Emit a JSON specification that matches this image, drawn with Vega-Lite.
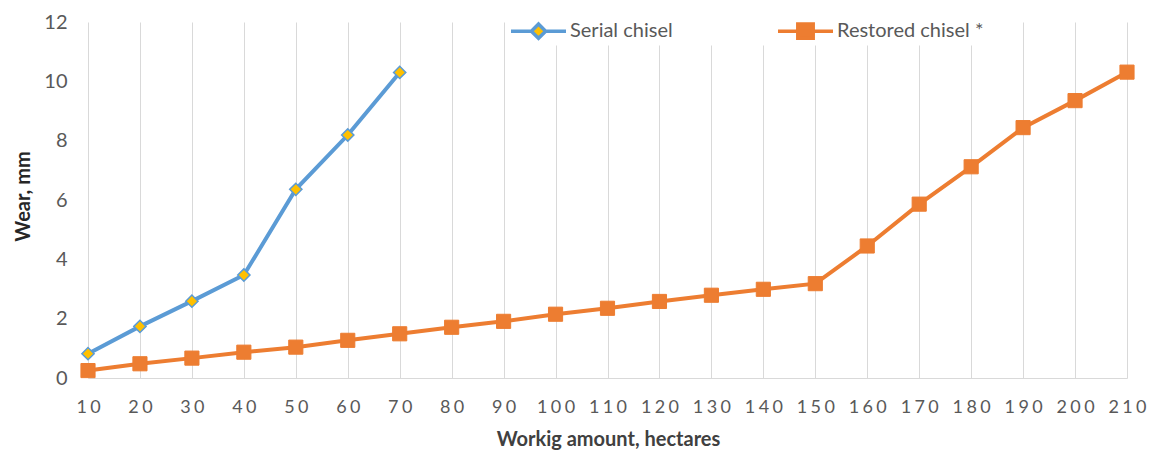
{
  "$schema": "https://vega.github.io/schema/vega-lite/v6.json",
  "autosize": "none",
  "width": 1039,
  "height": 356,
  "padding": {"left": 88, "top": 22, "right": 26, "bottom": 74},
  "background": "white",
  "config": {"view": {"stroke": null}, "font": "Lato"},
  "data": {"values": [
    {"x": 10, "wear": 0.82, "series": "Serial chisel"},
    {"x": 20, "wear": 1.74, "series": "Serial chisel"},
    {"x": 30, "wear": 2.59, "series": "Serial chisel"},
    {"x": 40, "wear": 3.47, "series": "Serial chisel"},
    {"x": 50, "wear": 6.36, "series": "Serial chisel"},
    {"x": 60, "wear": 8.19, "series": "Serial chisel"},
    {"x": 70, "wear": 10.3, "series": "Serial chisel"},
    {"x": 10, "wear": 0.25, "series": "Restored chisel *"},
    {"x": 20, "wear": 0.48, "series": "Restored chisel *"},
    {"x": 30, "wear": 0.67, "series": "Restored chisel *"},
    {"x": 40, "wear": 0.87, "series": "Restored chisel *"},
    {"x": 50, "wear": 1.04, "series": "Restored chisel *"},
    {"x": 60, "wear": 1.27, "series": "Restored chisel *"},
    {"x": 70, "wear": 1.49, "series": "Restored chisel *"},
    {"x": 80, "wear": 1.71, "series": "Restored chisel *"},
    {"x": 90, "wear": 1.91, "series": "Restored chisel *"},
    {"x": 100, "wear": 2.15, "series": "Restored chisel *"},
    {"x": 110, "wear": 2.35, "series": "Restored chisel *"},
    {"x": 120, "wear": 2.58, "series": "Restored chisel *"},
    {"x": 130, "wear": 2.79, "series": "Restored chisel *"},
    {"x": 140, "wear": 2.99, "series": "Restored chisel *"},
    {"x": 150, "wear": 3.18, "series": "Restored chisel *"},
    {"x": 160, "wear": 4.45, "series": "Restored chisel *"},
    {"x": 170, "wear": 5.86, "series": "Restored chisel *"},
    {"x": 180, "wear": 7.12, "series": "Restored chisel *"},
    {"x": 190, "wear": 8.44, "series": "Restored chisel *"},
    {"x": 200, "wear": 9.35, "series": "Restored chisel *"},
    {"x": 210, "wear": 10.31, "series": "Restored chisel *"}
  ]},
  "encoding": {
    "x": {
      "field": "x", "type": "quantitative",
      "scale": {"domain": [10, 210], "nice": false, "zero": false},
      "axis": {
        "values": [10,20,30,40,50,60,70,80,90,100,110,120,130,140,150,160,170,180,190,200,210],
        "grid": true, "gridColor": "#D9D9D9", "gridWidth": 1,
        "domain": true, "domainColor": "#D9D9D9", "domainWidth": 1,
        "ticks": false,
        "labelFont": "Lato", "labelFontSize": 18, "labelColor": "#595959",
        "labelPadding": 20, "labelBaseline": "top", "labelFlush": false,
        "labelExpr": "join(split(datum.label, ''), '\u2009\u200a')",
        "title": "Workig amount, hectares",
        "titleFont": "Lato", "titleFontSize": 20, "titleFontWeight": "bold", "titleColor": "#404040",
        "titleX": 520, "titleY": 67, "titleBaseline": "alphabetic", "titleAnchor": "middle"
      }
    },
    "y": {
      "field": "wear", "type": "quantitative",
      "scale": {"domain": [0, 12], "nice": false},
      "axis": {
        "values": [0,2,4,6,8,10,12],
        "grid": false, "domain": false, "ticks": false,
        "labelFont": "Lato", "labelFontSize": 20, "labelColor": "#595959",
        "labelPadding": 21,
        "title": "Wear, mm",
        "titleFont": "Lato", "titleFontSize": 20, "titleFontWeight": "bold", "titleColor": "#262626",
        "titleX": -65, "titleY": 174, "titleAngle": -90, "titleBaseline": "middle", "titleAnchor": "middle"
      }
    }
  },
  "layer": [
    {
      "mark": {"type": "line", "strokeWidth": 4},
      "encoding": {
        "color": {
          "field": "series", "type": "nominal",
          "scale": {"domain": ["Serial chisel", "Restored chisel *"], "range": ["#5B9BD5", "#ED7D31"]},
          "legend": {
            "title": null,
            "orient": "none", "direction": "horizontal",
            "legendX": 421, "legendY": -20.5,
            "fillColor": "white", "padding": 0,
            "symbolSize": 3025, "symbolStrokeWidth": 3.5,
            "labelFont": "Lato", "labelFontSize": 20, "labelColor": "#595959",
            "labelOffset": 2, "columnPadding": 98
          }
        }
      }
    },
    {
      "transform": [{"filter": "datum.series === 'Serial chisel'"}],
      "mark": {"type": "point", "shape": "diamond", "filled": true, "fill": "#FFC000", "stroke": "#5B9BD5", "strokeWidth": 1.5, "opacity": 1, "size": 150}
    },
    {
      "transform": [{"filter": "datum.series === 'Restored chisel *'"}],
      "mark": {"type": "point", "shape": "square", "filled": true, "fill": "#ED7D31", "stroke": "#ED7D31", "strokeWidth": 1, "opacity": 1, "size": 200}
    },
    {
      "transform": [{"filter": "datum.x > 1000"}],
      "mark": {"type": "point", "filled": true, "opacity": 1, "strokeWidth": 3.5},
      "encoding": {
        "shape": {
          "field": "series", "type": "nominal",
          "scale": {"domain": ["Serial chisel", "Restored chisel *"], "range": ["M-1,0H-0.26M0.26,0H1M-0.26,0L0,-0.26L0.26,0L0,0.26Z", "M-1,0H1M-0.28,-0.26H0.28V0.26H-0.28Z"]},
          "legend": null
        },
        "fill": {
          "field": "series", "type": "nominal",
          "scale": {"domain": ["Serial chisel", "Restored chisel *"], "range": ["#FFC000", "#ED7D31"]},
          "legend": null
        },
        "stroke": {
          "field": "series", "type": "nominal",
          "scale": {"domain": ["Serial chisel", "Restored chisel *"], "range": ["#5B9BD5", "#ED7D31"]},
          "legend": null
        }
      }
    }
  ]
}
